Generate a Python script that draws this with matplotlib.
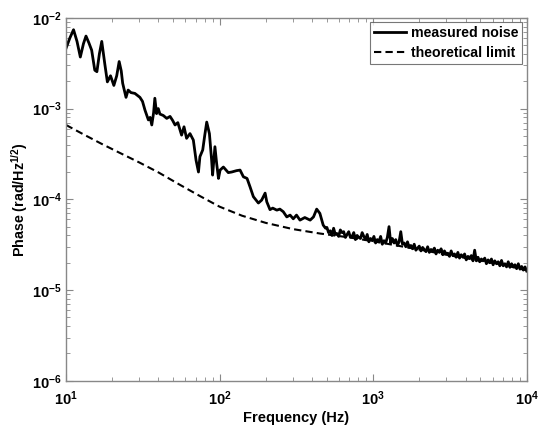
import numpy as np
import matplotlib
matplotlib.use("Agg")
import matplotlib.pyplot as plt
from matplotlib.ticker import LogLocator, FixedLocator, NullFormatter

plt.rcParams['font.family'] = ['Liberation Sans', 'DejaVu Sans']
plt.rcParams['font.weight'] = 'bold'
plt.rcParams['mathtext.fontset'] = 'custom'
plt.rcParams['mathtext.rm'] = 'Liberation Sans:bold'
plt.rcParams['mathtext.it'] = 'Liberation Sans:bold'
plt.rcParams['mathtext.bf'] = 'Liberation Sans:bold'

# measured noise, low-frequency part (Hz, rad/Hz^1/2)
freq_lo = [10, 10.6, 11.2, 11.8, 12.4, 13.0, 13.5, 14.1, 14.7, 15.4, 15.9, 16.5, 17.1,
           17.9, 18.6, 19.5, 20.5, 21.4, 22.2, 22.9, 23.4, 24.6, 25.4, 26.5, 28.1, 30.3,
           31.5, 32.7, 34.4, 35.3, 36.2, 37.2, 37.9, 38.9, 39.9, 40.9, 43.0, 45.3, 47.6,
           49.5, 51.3, 53.5, 56.6, 58.7, 61.0, 64.2, 67.5, 70.3, 72.9, 74.5, 77.7, 80.0,
           82.5, 85.9, 88.8, 90.1, 93.3, 95.7, 98.4, 100.8, 105.9, 114, 120, 129, 136, 143,
           151, 158, 166, 179, 188, 198, 203, 213, 222, 236, 247, 260, 274, 288, 302, 317,
           334, 359, 389, 409, 429, 450, 473, 490]
noise_lo = [4.6e-3, 6.0e-3, 7.4e-3, 5.5e-3, 3.7e-3, 5.2e-3, 6.3e-3, 5.3e-3, 4.4e-3, 2.65e-3,
            2.55e-3, 4.0e-3, 5.5e-3, 3.1e-3, 1.97e-3, 2.3e-3, 1.8e-3, 2.3e-3, 3.3e-3, 2.6e-3,
            1.9e-3, 1.33e-3, 1.6e-3, 1.5e-3, 1.47e-3, 1.33e-3, 1.2e-3, 9.6e-4, 7.5e-4, 8.0e-4,
            6.6e-4, 9.0e-4, 1.3e-3, 8.8e-4, 1.0e-3, 8.7e-4, 8.4e-4, 7.8e-4, 8.2e-4, 7.4e-4,
            6.6e-4, 7.0e-4, 5.1e-4, 6.3e-4, 4.7e-4, 5.3e-4, 4.5e-4, 2.7e-4, 2.0e-4, 2.95e-4,
            3.5e-4, 5.0e-4, 7.1e-4, 5.3e-4, 2.7e-4, 1.85e-4, 3.8e-4, 2.5e-4, 1.7e-4, 2.1e-4,
            2.27e-4, 1.97e-4, 2.0e-4, 2.07e-4, 2.1e-4, 1.77e-4, 1.7e-4, 1.37e-4, 1.07e-4,
            9.1e-5, 9.8e-5, 1.17e-4, 9.4e-5, 7.7e-5, 8.0e-5, 7.6e-5, 7.8e-5, 7.3e-5, 6.4e-5,
            6.7e-5, 6.1e-5, 6.7e-5, 5.9e-5, 6.3e-5, 5.9e-5, 6.4e-5, 7.8e-5, 7.0e-5, 5.2e-5,
            4.8e-5]

# measured noise, high-frequency part (500 Hz .. 10 kHz), units of 1e-5
noise_hi_e5 = [4.9, 4.3, 4.5, 4.0, 4.8, 4.1, 4.2, 3.9, 4.6, 4.3,
               4.4, 3.8, 4.1, 4.4, 3.8, 3.9, 4.3, 3.6, 4.0, 3.8,
               3.7, 4.3, 3.9, 3.6, 4.1, 3.4, 3.7, 3.5, 3.9, 3.3,
               3.6, 3.4, 3.9, 3.2, 3.5, 3.3, 3.8, 5.0, 3.3, 3.7,
               3.3, 3.6, 3.1, 3.4, 4.4, 3.2, 3.3, 3.0, 3.4, 2.95,
               3.1, 2.85, 3.2, 2.75, 2.9, 3.05, 2.7, 2.95, 2.8, 2.65,
               3.0, 2.6, 2.8, 2.7, 2.9, 2.5, 2.75, 2.6, 2.85, 2.45,
               2.7, 2.5, 2.55, 2.35, 2.7, 2.4, 2.5, 2.3, 2.6, 2.25,
               2.45, 2.3, 2.5, 2.15, 2.35, 2.25, 2.4, 2.1, 2.75, 2.1,
               2.3, 2.05, 2.2, 2.1, 2.25, 1.95, 2.15, 2.0, 2.2, 1.9,
               2.1, 1.95, 2.05, 1.85, 2.12, 1.85, 1.95, 1.8, 2.05, 1.78,
               1.95, 1.8, 1.9, 1.72, 1.95, 1.7, 1.82, 1.66, 1.8, 1.62]
freq_hi = np.geomspace(500, 1e4, len(noise_hi_e5))

# theoretical limit
freq_th = [10, 13, 17, 22, 30, 40, 55, 75, 100, 140, 200, 300, 450, 700, 1000, 1500,
           2000, 3000, 5000, 7000, 10000]
limit_th = [6.6e-4, 5.2e-4, 4.1e-4, 3.3e-4, 2.55e-4, 1.98e-4, 1.45e-4, 1.08e-4, 8.3e-5,
            6.6e-5, 5.5e-5, 4.7e-5, 4.2e-5, 3.8e-5, 3.45e-5, 3.05e-5, 2.8e-5, 2.45e-5,
            2.1e-5, 1.9e-5, 1.65e-5]

freq_meas = np.concatenate([freq_lo, freq_hi])
noise_meas = np.concatenate([noise_lo, np.array(noise_hi_e5) * 1e-5])

fig = plt.figure(figsize=(5.43, 4.25), dpi=100)
ax = fig.add_axes([0.1215, 0.104, 0.8485, 0.854])
ax.plot(freq_meas, noise_meas, color='black', lw=2.0, label='measured noise')
ax.plot(freq_th, limit_th, color='black', lw=1.5, ls=(0, (3.5, 2)), label='theoretical limit')
ax.set_xscale('log')
ax.set_yscale('log')
ax.set_xlim(10, 1e4)
ax.set_ylim(1e-6, 1e-2)

ax.xaxis.set_major_locator(FixedLocator([1e1, 1e2, 1e3, 1e4]))
ax.yaxis.set_major_locator(FixedLocator([1e-6, 1e-5, 1e-4, 1e-3, 1e-2]))
ax.set_xticklabels([r'$10^{1}$', r'$10^{2}$', r'$10^{3}$', r'$10^{4}$'])
ax.set_yticklabels([r'$10^{-6}$', r'$10^{-5}$', r'$10^{-4}$', r'$10^{-3}$', r'$10^{-2}$'])
ax.xaxis.set_minor_locator(LogLocator(base=10, subs=np.arange(2, 10)))
ax.yaxis.set_minor_locator(LogLocator(base=10, subs=np.arange(2, 10)))
ax.xaxis.set_minor_formatter(NullFormatter())
ax.yaxis.set_minor_formatter(NullFormatter())
ax.tick_params(which='both', direction='in', top=True, right=True, color='#888888',
               labelsize=10.5)
ax.tick_params(which='major', length=5)
ax.tick_params(axis='y', which='major', pad=3)
ax.tick_params(axis='x', which='major', pad=6)
ax.tick_params(which='minor', length=3)
for s in ax.spines.values():
    s.set_color('#888888')
    s.set_linewidth(1.0)

ax.set_xlabel('Frequency (Hz)', fontsize=10.5, fontweight='bold', labelpad=2)
ax.set_ylabel(r'Phase (rad/Hz$^{1/2}$)', fontsize=10.3, fontweight='bold', labelpad=1)

leg = ax.legend(loc='upper right', frameon=True, fancybox=False,
                handlelength=2.3, handletextpad=0.3, borderpad=0.3, labelspacing=0.4,
                borderaxespad=0.3, prop={'weight': 'bold', 'size': 10.2})
leg.get_frame().set_edgecolor('#555555')
leg.get_frame().set_linewidth(0.8)

fig.savefig('out.png', dpi=100)
